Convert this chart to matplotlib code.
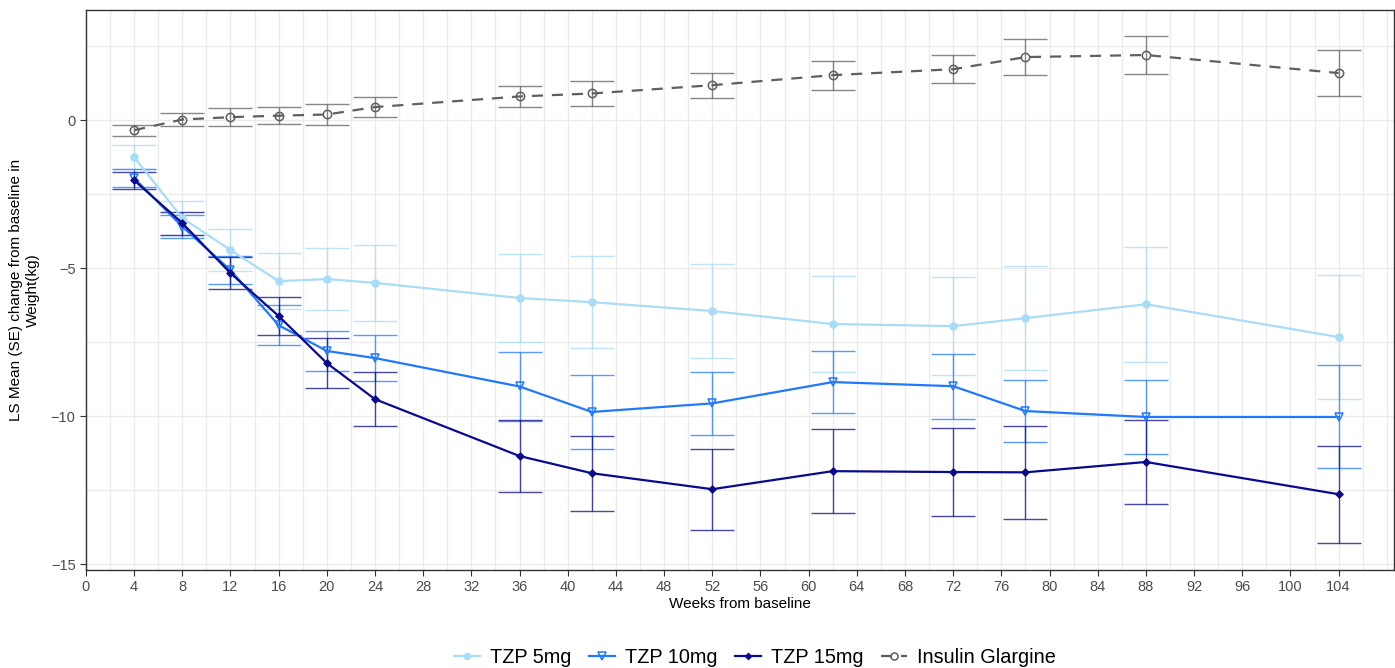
import numpy as np
import matplotlib.pyplot as plt
from matplotlib.ticker import MultipleLocator

plt.rcParams['font.family'] = ['Liberation Sans', 'DejaVu Sans']

# semaines de visite
weeks = [4, 8, 12, 16, 20, 24, 36, 42, 52, 62, 72, 78, 88, 104]

# LS mean change from baseline (kg) et SE
tzp5 = [-1.25, -3.31, -4.39, -5.44, -5.37, -5.50, -6.01, -6.15, -6.45, -6.89, -6.96, -6.69, -6.22, -7.33]
tzp5_se = [0.40, 0.57, 0.71, 0.95, 1.05, 1.28, 1.49, 1.55, 1.60, 1.62, 1.66, 1.76, 1.94, 2.10]

tzp10 = [-1.96, -3.60, -5.07, -6.93, -7.80, -8.04, -9.00, -9.86, -9.57, -8.85, -8.99, -9.83, -10.03, -10.03]
tzp10_se = [0.30, 0.39, 0.47, 0.68, 0.69, 0.78, 1.15, 1.25, 1.07, 1.05, 1.10, 1.05, 1.26, 1.74]

tzp15 = [-2.03, -3.48, -5.17, -6.62, -8.21, -9.43, -11.35, -11.93, -12.47, -11.86, -11.89, -11.90, -11.55, -12.64]
tzp15_se = [0.29, 0.39, 0.54, 0.63, 0.84, 0.91, 1.22, 1.27, 1.37, 1.42, 1.49, 1.57, 1.42, 1.64]

glar = [-0.34, 0.02, 0.10, 0.15, 0.19, 0.44, 0.80, 0.90, 1.18, 1.52, 1.72, 2.13, 2.20, 1.59]
glar_se = [0.18, 0.22, 0.30, 0.28, 0.34, 0.34, 0.36, 0.42, 0.42, 0.49, 0.47, 0.61, 0.64, 0.79]

xticks = list(range(0, 105, 4))

fig = plt.figure(figsize=(13.95, 6.68), dpi=100)
ax = fig.add_axes([0.0616, 0.1467, 0.9377, 0.8383])

# series: (y, se, couleur, marker, style, label, taille, plein)
series = [
    (tzp5, tzp5_se, '#a9dcf7', 'o', '-', 'TZP 5mg', 5, True),
    (tzp10, tzp10_se, '#2179ff', 'v', '-', 'TZP 10mg', 6, False),
    (tzp15, tzp15_se, '#0a0a8c', 'D', '-', 'TZP 15mg', 3.5, True),
    (glar, glar_se, '#5f5f5f', 'o', '--', 'Insulin Glargine', 6, False),
]

for y, se, col, mk, ls, lab, ms, filled in series:
    ax.errorbar(weeks, y, yerr=se, fmt='none', ecolor=col, elinewidth=1,
                capsize=16, capthick=1, alpha=0.75, zorder=2)
    ax.plot(weeks, y, color=col, linestyle=ls, linewidth=1.6,
            marker=mk, markersize=ms, markerfacecolor=col if filled else 'none',
            markeredgecolor=col, markeredgewidth=1.1, label=lab, zorder=3,
            dashes=(5, 4) if ls == '--' else (None, None))

ax.set_xlim(0, 108.6)
ax.set_ylim(-15.2, 3.72)
ax.set_xticks(xticks)
ax.xaxis.set_minor_locator(MultipleLocator(2))
ax.set_yticks([0, -5, -10, -15])
ax.yaxis.set_minor_locator(MultipleLocator(2.5))
ax.grid(True, which='both', color='#ebebeb', linewidth=1)
ax.set_axisbelow(True)
ax.tick_params(which='major', length=4, color='#333333', labelsize=10.5, labelcolor='#4d4d4d')
ax.tick_params(which='minor', length=0)
for s in ax.spines.values():
    s.set_color('#333333')
    s.set_linewidth(1)

ax.set_xlabel('Weeks from baseline', fontsize=11, labelpad=2)
ax.set_ylabel('LS Mean (SE) change from baseline in\nWeight(kg)', fontsize=11, labelpad=8)

fig.legend(loc='center', bbox_to_anchor=(0.5413, 0.016), ncol=4, frameon=False,
           fontsize=14.3, handlelength=1.3, columnspacing=0.9, handletextpad=0.5,
           markerscale=0.85)

fig.savefig('out.png', dpi=100)
